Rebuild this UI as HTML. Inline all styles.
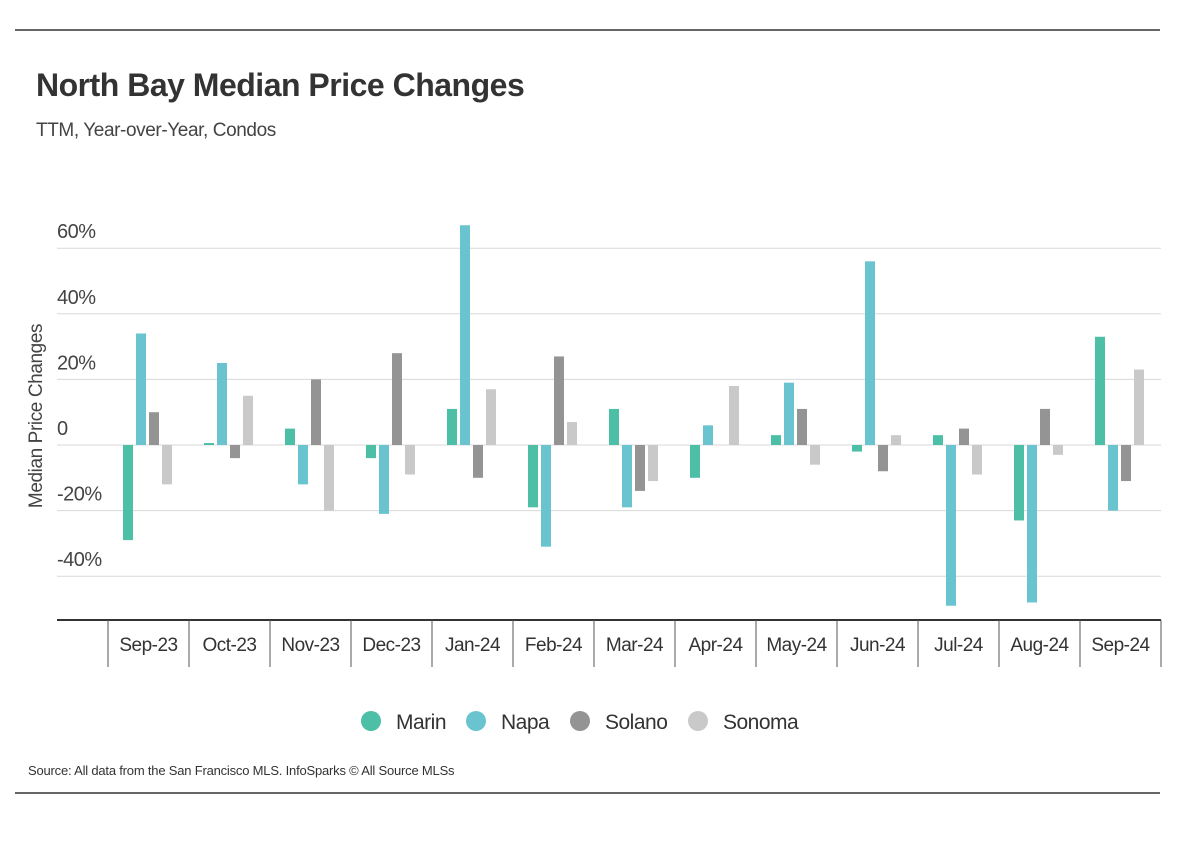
<!DOCTYPE html>
<html><head><meta charset="utf-8"><style>
body{margin:0;background:#fff;width:1184px;height:836px;overflow:hidden;font-family:"Liberation Sans",sans-serif;}
svg text{font-family:"Liberation Sans",sans-serif;}
</style></head><body>
<svg width="1184" height="836">
<line x1="15" y1="30" x2="1160" y2="30" stroke="#333" stroke-width="1.5"/>
<text x="36" y="96" font-size="32" font-weight="bold" fill="#333" letter-spacing="-0.5">North Bay Median Price Changes</text>
<text x="36" y="136" font-size="19" fill="#444" letter-spacing="-0.4">TTM, Year-over-Year, Condos</text>
<text transform="translate(42,416) rotate(-90)" text-anchor="middle" font-size="19" fill="#444" letter-spacing="-0.4">Median Price Changes</text>
<g id="grid"></g>
<g id="bars"></g>
<g id="xaxis"></g>
<g id="legend"></g>
<text x="28" y="775" font-size="13" fill="#333" letter-spacing="-0.2">Source:  All data from the San Francisco MLS. InfoSparks © All Source MLSs</text>
<line x1="15" y1="793" x2="1160" y2="793" stroke="#333" stroke-width="1.5"/>
</svg>
<script>
const categories=["Sep-23","Oct-23","Nov-23","Dec-23","Jan-24","Feb-24","Mar-24","Apr-24","May-24","Jun-24","Jul-24","Aug-24","Sep-24"];
const marin=[-29,0.6,5,-4,11,-19,11,-10,3,-2,3,-23,33];
const napa=[34,25,-12,-21,67,-31,-19,6,19,56,-49,-48,-20];
const solano=[10,-4,20,28,-10,27,-14,0,11,-8,5,11,-11];
const sonoma=[-12,15,-20,-9,17,7,-11,18,-6,3,-9,-3,23];
const seriesNames=["Marin","Napa","Solano","Sonoma"];
const ticks=[60,40,20,0,-20,-40];
const tickLabels=["60%","40%","20%","0","-20%","-40%"];
const colors=["#4cbfa6","#69c4cf","#949494","#c9c9c9"];
const NS="http://www.w3.org/2000/svg";
const y=v=>445-v*3.28;
const catX=i=>108+i*81;
function mk(tag,attrs,parent){const e=document.createElementNS(NS,tag);for(const k in attrs)e.setAttribute(k,attrs[k]);parent.appendChild(e);return e;}
const grid=document.getElementById('grid');
ticks.forEach((t,i)=>{
 const l=mk('line',{x1:57,x2:1161,y1:y(t),y2:y(t),stroke:'#d8d8d8','stroke-width':1},grid);
 
 
 const tx=mk('text',{x:57,y:y(t)-10,'font-size':20,fill:'#444','letter-spacing':'-0.5'},grid);
 tx.textContent=tickLabels[i];
 
 
});
const bars=document.getElementById('bars');
[marin,napa,solano,sonoma].forEach((s,si)=>{
 s.forEach((v,i)=>{
  const x=catX(i)+15+si*13;
  const r=mk('rect',{x:x,width:10,y:Math.min(y(v),y(0)),height:Math.abs(y(v)-y(0)),fill:colors[si]},bars);
  
  
 });
});
const xa=document.getElementById('xaxis');
const ax=mk('line',{x1:57,x2:1161,y1:620,y2:620,stroke:'#333','stroke-width':2},xa);


for(let i=0;i<=categories.length;i++){
 const t=mk('line',{x1:catX(i),x2:catX(i),y1:620,y2:667,stroke:'#555','stroke-width':1},xa);
 
 
}
categories.forEach((c,i)=>{
 const t=mk('text',{x:catX(i)+40.5,y:651,'text-anchor':'middle','font-size':19,fill:'#333','letter-spacing':'-0.5'},xa);
 t.textContent=c;
 
 
});
const lg=document.getElementById('legend');
const lx=[371,476,580,698];
seriesNames.forEach((n,i)=>{
 const g=mk('g',{},lg);
 
 
 mk('circle',{cx:lx[i],cy:721,r:10,fill:colors[i]},g);
 const t=mk('text',{x:lx[i]+25,y:729,'font-size':21,fill:'#333','letter-spacing':'-0.5'},g);
 t.textContent=n;
});
</script>
</body></html>
